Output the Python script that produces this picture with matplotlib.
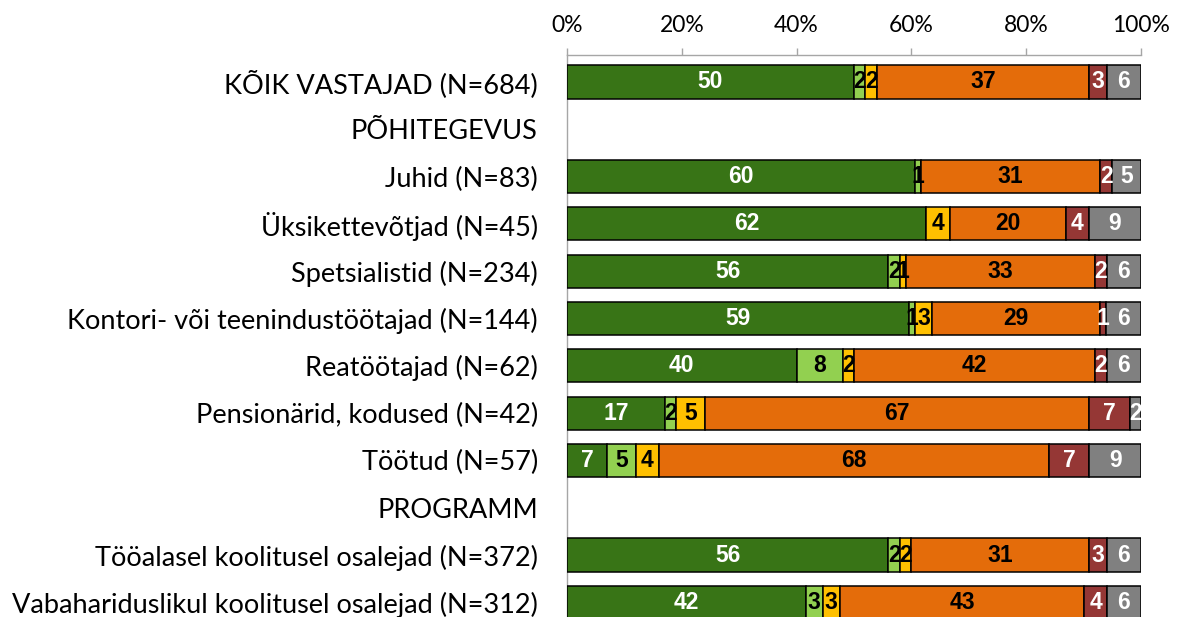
import matplotlib
matplotlib.use("Agg")
import matplotlib.pyplot as plt
import numpy as np

categories = [
    "KÕIK VASTAJAD (N=684)",
    "PÕHITEGEVUS",
    "Juhid (N=83)",
    "Üksikettevõtjad (N=45)",
    "Spetsialistid (N=234)",
    "Kontori- või teenindustöötajad (N=144)",
    "Reatöötajad (N=62)",
    "Pensionärid, kodused (N=42)",
    "Töötud (N=57)",
    "PROGRAMM",
    "Tööalasel koolitusel osalejad (N=372)",
    "Vabahariduslikul koolitusel osalejad (N=312)",
]

# six answer groups (series), None = header row without bar
s1 = [50, None, 60, 62, 56, 59, 40, 17, 7, None, 56, 42]
s2 = [2, None, 1, 0, 2, 1, 8, 2, 5, None, 2, 3]
s3 = [2, None, 0, 4, 1, 3, 2, 5, 4, None, 2, 3]
s4 = [37, None, 31, 20, 33, 29, 42, 67, 68, None, 31, 43]
s5 = [3, None, 2, 4, 2, 1, 2, 7, 7, None, 3, 4]
s6 = [6, None, 5, 9, 6, 6, 6, 2, 9, None, 6, 6]

series = [s1, s2, s3, s4, s5, s6]
colors = ["#387416", "#92D050", "#FFC000", "#E46C0A", "#953735", "#808080"]
text_colors = ["white", "black", "black", "black", "white", "white"]

tick_vals = [0, 20, 40, 60, 80, 100]
tick_labels = ["0%", "20%", "40%", "60%", "80%", "100%"]

W, H = 1178, 617
fig = plt.figure(figsize=(W / 100, H / 100), dpi=100)
top_px, bot_px = 55, 626
left_px, right_px = 567, 1141
ax = fig.add_axes([left_px / W, (H - bot_px) / H, (right_px - left_px) / W, (bot_px - top_px) / H])

y = np.arange(len(categories))
data = np.array([[np.nan if v is None else v for v in s] for s in series], dtype=float)
totals = np.nansum(data, axis=0)
totals[totals == 0] = 1
pct = data / totals * 100

left = np.zeros(len(categories))
for i in range(len(series)):
    vals = pct[i]
    mask = ~np.isnan(vals)
    ax.barh(y[mask], vals[mask], left=left[mask], height=0.70, color=colors[i],
            edgecolor="black", linewidth=1.1, zorder=3)
    for j in np.where(mask)[0]:
        raw = data[i, j]
        if raw > 0:
            ax.text(left[j] + vals[j] / 2, y[j], f"{int(raw)}", ha="center", va="center",
                    color=text_colors[i], fontsize=16.5, fontweight="bold",
                    family="Liberation Sans", zorder=4)
    left[mask] += vals[mask]

ax.set_xlim(0, 100)
ax.set_ylim(11.5, -0.57)
ax.set_yticks(y)
ax.set_yticklabels(categories, family="Lato", fontsize=19.5)
ax.tick_params(axis="y", length=0, pad=21)
ax.xaxis.tick_top()
ax.set_xticks(tick_vals)
ax.set_xticklabels(tick_labels, family="Lato", fontsize=16.5)
ax.tick_params(axis="x", length=5, color="#A6A6A6", width=1, pad=9)
for side in ["right", "bottom"]:
    ax.spines[side].set_visible(False)
ax.spines["top"].set_color("#A6A6A6")
ax.spines["left"].set_color("#A6A6A6")
ax.spines["top"].set_linewidth(1)
ax.spines["left"].set_linewidth(1)
ax.set_facecolor("white")

fig.savefig("out.png", dpi=100)
